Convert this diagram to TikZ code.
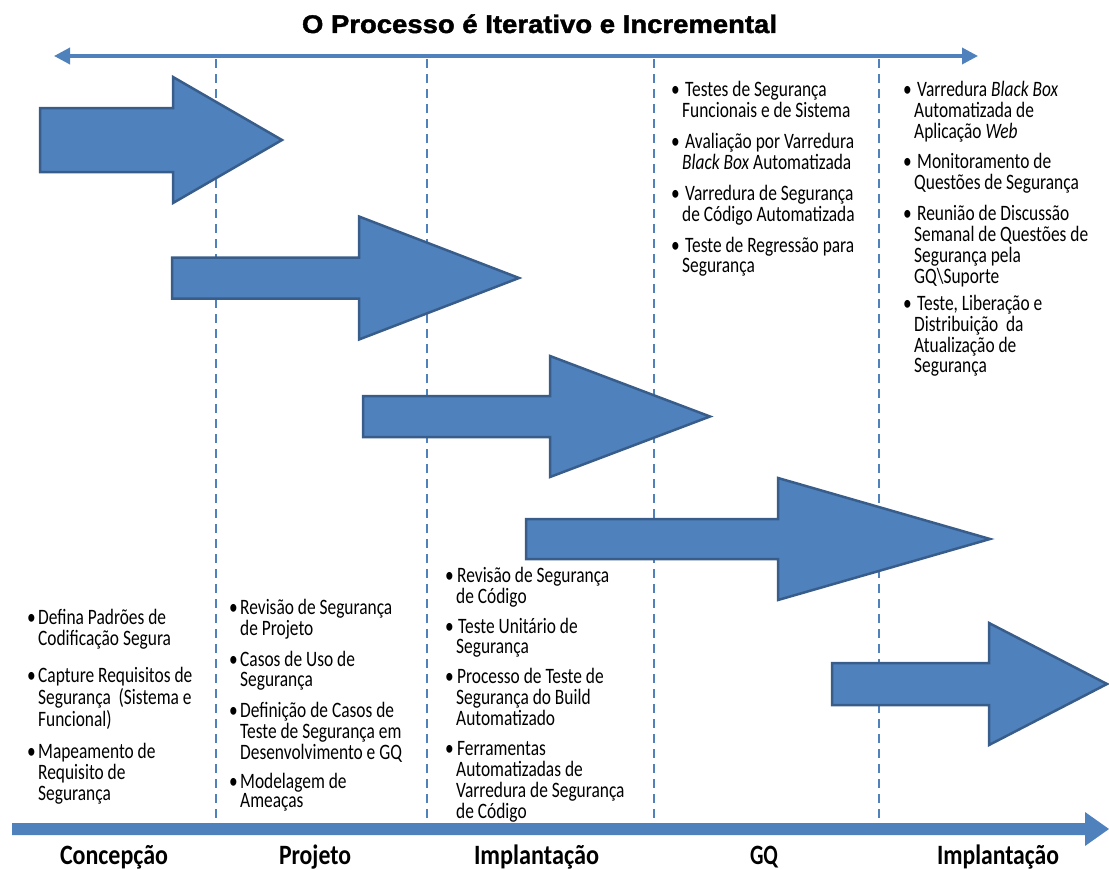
\documentclass[tikz,border=0pt]{standalone}
\usepackage{fontspec}
\usepackage{graphicx}
\setmainfont{Carlito}
\newfontfamily\condfont[FakeStretch=0.79]{Carlito}
\newfontfamily\titlefont[FakeBold=1.6]{Liberation Sans Bold}
\usetikzlibrary{arrows.meta}

\definecolor{phaseblue}{HTML}{4F81BD}
\definecolor{phaseedge}{HTML}{385D8A}

% bullet followed by a stack of left-aligned lines
\newcommand{\bitem}[1]{\makebox[11pt][l]{\textbullet}\begin{tabular}[t]{@{}l@{}}#1\end{tabular}}
% set a text to a given width, keeping its height
\newcommand{\fitw}[2]{\resizebox{#1}{\height}{#2}}
% block arrow: left x, head base x, tip x, centre y, shaft half height, head half height
\newcommand{\phasearrow}[6]{%
  \draw[phase] (#1,#4-#5) -- (#2,#4-#5) -- (#2,#4-#6) -- (#3,#4)
    -- (#2,#4+#6) -- (#2,#4+#5) -- (#1,#4+#5) -- cycle;}

\begin{document}
\begin{tikzpicture}[x=1pt, y=-1pt,
  phase/.style={fill=phaseblue, draw=phaseedge, line width=2.5pt, line join=miter},
  guide/.style={draw=phaseblue, line width=2.2pt, dash pattern=on 9pt off 6pt},
  item/.style={anchor=base west, inner sep=0pt, text=black,
    font={\condfont\fontsize{22pt}{19.5pt}\selectfont}},
  itemwide/.style={item, font={\condfont\fontsize{22pt}{21pt}\selectfont}},
  stage/.style={anchor=base, inner sep=0pt, text=black,
    font={\bfseries\fontsize{28pt}{28pt}\selectfont}},
  headline/.style={anchor=base, inner sep=0pt, text=black,
    font={\titlefont\fontsize{25.5pt}{25.5pt}\selectfont}}]

\useasboundingbox (0,0) rectangle (1109,870);

% title and the iteration arrow under it
\node[headline] (title) at (539.5,33) {\fitw{475pt}{O Processo é Iterativo e Incremental}};
\coordinate (iterL) at (54,56);
\coordinate (iterR) at (978,56);
\draw[phaseblue, line width=3.5pt,
  {Triangle[length=16pt,width=16pt]}-{Triangle[length=16pt,width=16pt]}] (iterL) -- (iterR);

% phase separators
\foreach \gx in {216,427,654,879}
  \draw[guide] (\gx,59) -- (\gx,822);

% time axis
\fill[phaseblue] (12,823) -- (1085,823) -- (1085,812) -- (1109,829)
  -- (1085,846) -- (1085,835) -- (12,835) -- cycle;

% staggered iteration arrows
\phasearrow{40}{173}{282}{140}{32}{63}
\phasearrow{172}{359}{519}{278}{20.5}{61.5}
\phasearrow{363}{550}{710}{416.5}{20.5}{60.5}
\phasearrow{526}{778}{990}{539}{20}{61}
\phasearrow{832}{989}{1107}{684}{21}{61}

% Concepcao activities
\node[itemwide] (c1) at (27,624) {\bitem{Defina Padrões de\\Codificação Segura}};
\node[itemwide] (c2) at (27,682) {\bitem{Capture Requisitos de\\Segurança\ \ (Sistema e\\Funcional)}};
\node[itemwide] (c3) at (27,758) {\bitem{Mapeamento de\\Requisito de\\Segurança}};

% Projeto activities
\node[item] (p1) at (229,614) {\bitem{Revisão de Segurança\\de Projeto}};
\node[item] (p2) at (229,666) {\bitem{Casos de Uso de\\Segurança}};
\node[item] (p3) at (229,717) {\bitem{Definição de Casos de\\Teste de Segurança em\\Desenvolvimento e GQ}};
\node[item] (p4) at (229,788) {\bitem{Modelagem de\\Ameaças}};

% Implantacao activities
\node[item] (i1) at (445,582) {\bitem{\hspace{1pt}Revisão de Segurança\\de Código}};
\node[item] (i2) at (445,633) {\bitem{\hspace{2pt}Teste Unitário de\\Segurança}};
\node[item] (i3) at (445,683) {\bitem{\hspace{1pt}Processo de Teste de\\Segurança do Build\\Automatizado}};
\node[item] (i4) at (445,755) {\bitem{\hspace{1pt}Ferramentas\\Automatizadas de\\Varredura de Segurança\\de Código}};

% GQ activities
\node[item] (g1) at (671,96) {\bitem{\hspace{3pt}Testes de Segurança\\Funcionais e de Sistema}};
\node[item] (g2) at (671,148) {\bitem{\hspace{3pt}Avaliação por Varredura\\\textit{Black Box} Automatizada}};
\node[item] (g3) at (671,200) {\bitem{\hspace{3pt}Varredura de Segurança\\de Código Automatizada}};
\node[item] (g4) at (671,252) {\bitem{\hspace{3pt}Teste de Regressão para\\Segurança}};

% Implantacao (release) activities
\node[item] (r1) at (903,96) {\bitem{\hspace{3pt}Varredura \textit{Black Box}\\Automatizada de\\Aplicação \textit{Web}}};
\node[item] (r2) at (903,168) {\bitem{\hspace{3pt}Monitoramento de\\Questões de Segurança}};
\node[item] (r3) at (903,220) {\bitem{\hspace{3pt}Reunião de Discussão\\Semanal de Questões de\\Segurança pela\\GQ\textbackslash Suporte}};
\node[item] (r4) at (903,310) {\bitem{\hspace{3pt}Teste, Liberação e\\Distribuição\ \ da\\Atualização de\\Segurança}};

% phase names
\node[stage] (s1) at (114,864) {\fitw{108pt}{Concepção}};
\node[stage] (s2) at (315,864) {\fitw{72pt}{Projeto}};
\node[stage] (s3) at (536.5,864) {\fitw{125pt}{Implantação}};
\node[stage] (s4) at (764,864) {\fitw{28pt}{GQ}};
\node[stage] (s5) at (998,864) {\fitw{122pt}{Implantação}};
\end{tikzpicture}
\end{document}
